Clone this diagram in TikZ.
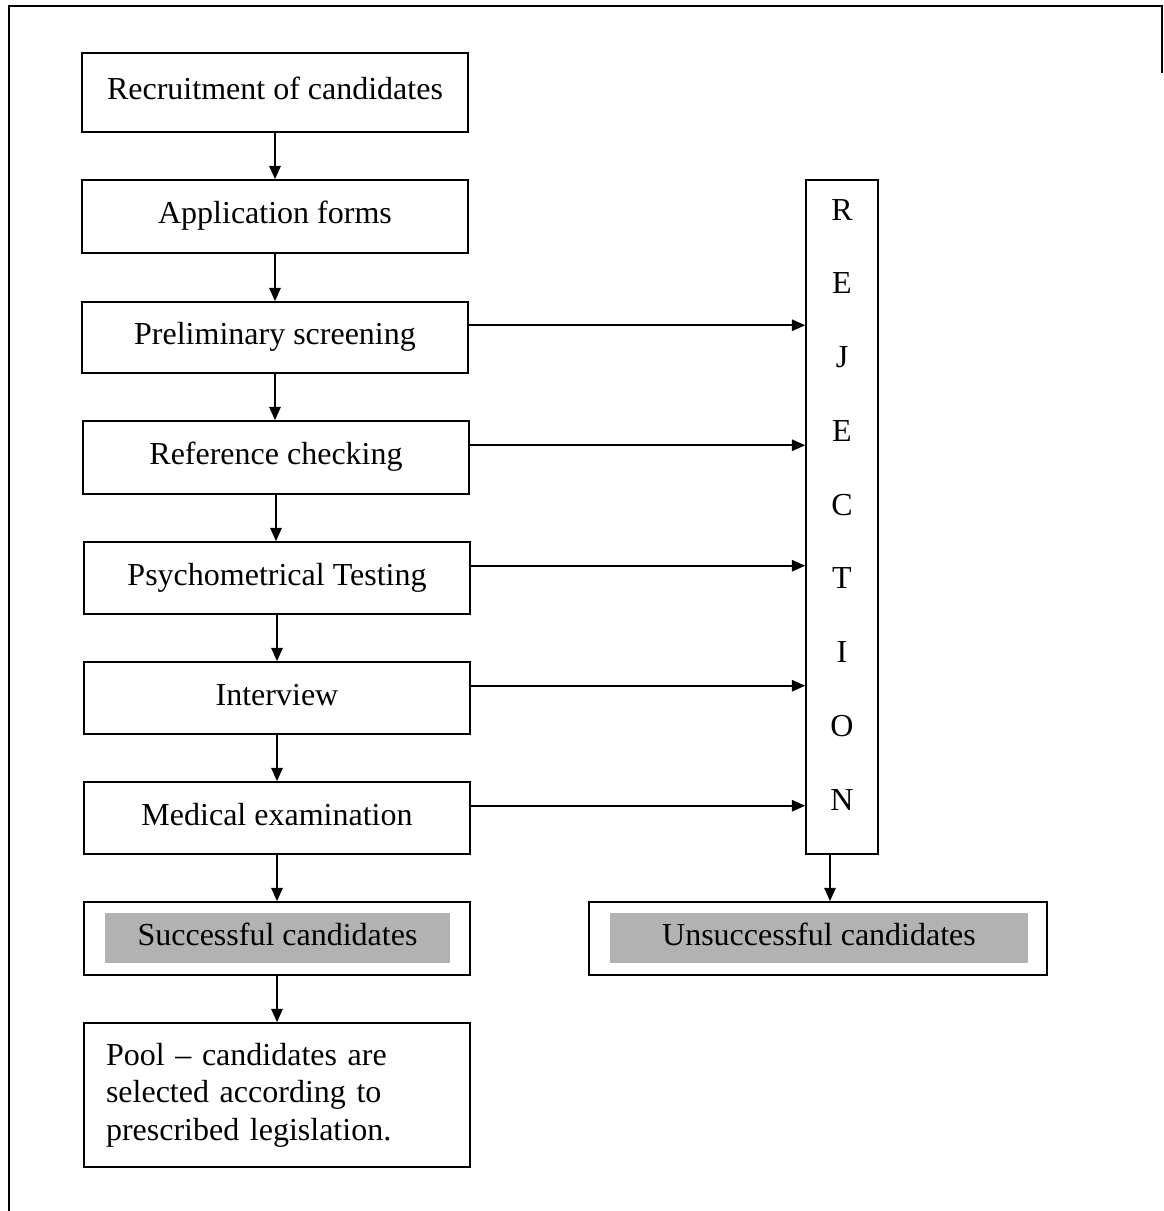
\documentclass[tikz,border=0pt]{standalone}
\usepackage{fontspec}
\setmainfont{Liberation Serif}
\usetikzlibrary{arrows.meta}
\definecolor{shadegray}{RGB}{178,178,178}
\begin{document}
\begin{tikzpicture}[x=0.75pt,y=-0.75pt,
  every node/.style={font=\fontsize{24}{28.1}\selectfont, text height=16.8pt, text depth=6pt},
  stepbox/.style={draw, line width=1.2pt, inner sep=0pt, minimum width=289.5pt, minimum height=54pt},
  shadebox/.style={fill=shadegray, inner sep=0pt, minimum height=37.5pt},
  letter/.style={inner sep=0pt},
  arr/.style={line width=1.4pt, -{Triangle[length=10pt,width=8.5pt]}},
  frame/.style={line width=1.2pt}
]
\useasboundingbox (0,0) rectangle (1164,1211);
% outer frame (cropped)
\coordinate (ftl) at (9,6);
\coordinate (ftr) at (1162,6);
\coordinate (fbl) at (9,1211);
\coordinate (frb) at (1162,73);
\draw[frame] (fbl) -- (ftl) -- (ftr) -- (frb);

% left column
\node[stepbox, minimum height=59.25pt] (rec) at (275,92.5) {Recruitment of candidates};
\node[stepbox, minimum height=54.75pt] (app) at (275,216.5) {Application forms};
\node[stepbox, minimum height=53.25pt] (pre) at (275,337.5) {Preliminary screening};
\node[stepbox, minimum height=54.75pt] (ref) at (276,457.5) {Reference checking};
\node[stepbox] (psy) at (277,578) {Psychometrical Testing};
\node[stepbox] (int) at (277,698) {Interview};
\node[stepbox] (med) at (277,818) {Medical examination};
\node[stepbox, minimum height=54.75pt] (suc) at (277,938.5) {};
\node[shadebox, minimum width=258.75pt] (sucg) at (277.5,938) {Successful candidates};
\node[stepbox, minimum height=108pt, text width=256.5pt, inner xsep=16.5pt, align=left, text height=, text depth=] (pool) at (277,1095)
  {Pool -- candidates are\\ selected according to\\ prescribed legislation.};

% rejection column
\node[draw, line width=1.2pt, inner sep=0pt, minimum width=54pt, minimum height=505.5pt] (rej) at (842,517) {};
\foreach \ch [count=\i from 0] in {R,E,J,E,C,T,I,O,N} {
  \node[letter] (l\i) at (842,{213+73.75*\i}) {\ch};
}
\node[stepbox, minimum width=343.5pt, minimum height=54.75pt] (uns) at (818,938.5) {};
\node[shadebox, minimum width=313.5pt] (unsg) at (819,938) {Unsuccessful candidates};

% vertical arrows
\foreach \a/\b in {rec/app, app/pre, pre/ref, ref/psy, psy/int, int/med, med/suc, suc/pool} {
  \draw[arr] (\a.south) -- (\a.south |- \b.north);
}

% rejection arrows
\foreach \a in {pre, ref, psy, int, med} {
  \coordinate (\a r) at ([yshift=9.2pt]\a.east);
  \draw[arr] (\a r) -- (\a r -| rej.west);
}
\coordinate (rejout) at ([xshift=-9pt]rej.south);
\draw[arr] (rejout) -- (rejout |- uns.north);
\end{tikzpicture}
\end{document}
